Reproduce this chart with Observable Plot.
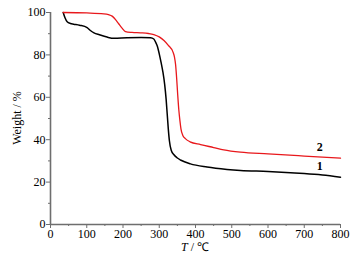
<!DOCTYPE html>
<html><head><meta charset="utf-8">
<script src="https://cdn.jsdelivr.net/npm/d3@7"></script>
<script src="https://cdn.jsdelivr.net/npm/@observablehq/plot@0.6"></script>
<style>body{margin:0;background:#fff}</style>
</head><body><div id="chart"></div>
<script>
const t1 = [35,40,46,55,64,80,101,110,120,135,156,175,211,250,276,285,290,295,300,305,310,315,319,322,325,328,333,340,349,360,386,432,487,524,600,662,700,750,800];
const w1 = [100,97.5,95.6,94.8,94.5,94,92.9,91.5,90.4,89.5,88.4,87.8,88.1,88.2,88.1,87.5,86,84,80.5,76.5,72,66,59,52,45,39.5,35,33,31.5,30.3,28.6,27.1,26,25.5,25,24.4,24,23.3,22.3];
const t2 = [35,100,147,160,170,180,188,198,207,225,248,270,285,300,313,325,338,342,345,348,351,354,357,360,365,372,385,414,450,478,524,600,700,800];
const w2 = [100,99.8,99.4,99,98.3,96.5,94.7,92.5,91,90.6,90.4,90.1,89.6,88.5,86.8,84.5,81.3,79,75.5,69,61,54,49,45,42,40.5,39,37.7,36.3,35.2,34.1,33.3,32.3,31.3];
const seriesLabels = [{t:743,w:36.5,text:"2"},{t:743,w:27.4,text:"1"}];
const xTicks = [0,100,200,300,400,500,600,700,800];
const yTicks = [0,20,40,60,80,100];
const xMinor = [50,150,250,350,450,550,650,750];
const yMinor = [10,30,50,70,90];

const s1 = t1.map((t,i)=>({t, w:w1[i]}));
const s2 = t2.map((t,i)=>({t, w:w2[i]}));
const axisColor = "#6e6e6e";
const serif = "Liberation Serif";

const chart = Plot.plot({
  width: 363, height: 259,
  marginLeft: 50, marginRight: 23, marginTop: 12, marginBottom: 35,
  style: {fontFamily: serif, fontSize: "12px", background: "#fff", color: "#000"},
  x: {domain: [0,800]},
  y: {domain: [0,100]},
  marks: [
    Plot.axisX(xTicks, {tickSize: 4, tickPadding: 1, label: null, stroke: axisColor, fill: "#000", fontFamily: serif, fontSize: 12}),
    Plot.axisX(xMinor, {tickSize: 2, tickFormat: () => "", label: null, stroke: axisColor}),
    Plot.axisY(yTicks, {tickSize: 4, tickPadding: 1, label: null, stroke: axisColor, fill: "#000", fontFamily: serif, fontSize: 12}),
    Plot.axisY(yMinor, {tickSize: 2, tickFormat: () => "", label: null, stroke: axisColor}),
    Plot.ruleX([0], {stroke: axisColor, strokeWidth: 1.6}),
    Plot.ruleY([0], {stroke: axisColor, strokeWidth: 1.6}),
    Plot.line(s1, {x: "t", y: "w", stroke: "#000", strokeWidth: 1.5, curve: "monotone-x"}),
    Plot.line(s2, {x: "t", y: "w", stroke: "#e8181c", strokeWidth: 1.3, curve: "monotone-x"}),
    Plot.text(seriesLabels, {x: "t", y: "w", text: "text", fontWeight: "bold", fontSize: 12, fontFamily: serif, fill: "#000"})
  ]
});

const svg = d3.select(chart);
svg.append("text")
  .attr("transform", "translate(18,118) rotate(-90)")
  .attr("text-anchor", "middle")
  .attr("dominant-baseline", "middle")
  .attr("font-size", 12)
  .attr("fill", "#000")
  .text("Weight / %");
const xl = svg.append("text")
  .attr("x", 195).attr("y", 251)
  .attr("text-anchor", "middle")
  .attr("font-size", 12)
  .attr("fill", "#000");
xl.append("tspan").attr("font-style", "italic").text("T");
xl.append("tspan").text(" / ℃");
svg.selectAll("text").style("font-family", "'Liberation Serif', 'Times New Roman', serif");

document.getElementById("chart").appendChild(chart);
</script>
</body></html>
